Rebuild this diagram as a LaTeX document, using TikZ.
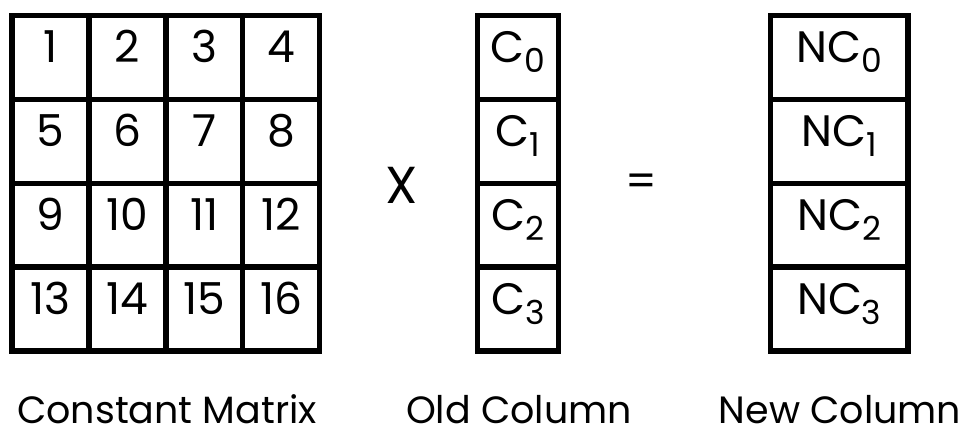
\documentclass[tikz,border=0pt]{standalone}
\usepackage{fontspec}
\setmainfont{Poppins}
% subscript set lower and smaller than the main text
\newcommand\lowsub[1]{\raisebox{-10pt}{\fontsize{33}{33}\selectfont #1}}
\tikzset{
  gridline/.style={draw=black, line width=5.5pt},
  cellbox/.style={gridline, rectangle, inner sep=0pt, minimum height=83.9pt,
    text height=30pt, text depth=19pt, font=\fontsize{44}{44}\selectfont},
  mcell/.style={cellbox, minimum width=76.9pt},
  ocell/.style={cellbox, minimum width=81pt},
  ncell/.style={cellbox, minimum width=137.5pt},
  opsign/.style={inner sep=0pt},
  caption/.style={anchor=base, inner sep=0pt, text height=27pt, text depth=0pt,
    font=\fontsize{38}{38}\selectfont}
}
\begin{document}
\begin{tikzpicture}[x=1pt, y=-1pt]
  \useasboundingbox (0,0) rectangle (968,430);
  % constant 4x4 matrix
  \foreach \i in {1,...,4} {
    \foreach \j in {1,...,4} {
      \pgfmathtruncatemacro{\n}{4*(\i-1)+\j}
      \node[mcell] (m-\i-\j) at ({12+76.9*(\j-0.5)}, {15.5+83.9*(\i-0.5)}) {\n};
    }
  }
  % old and new columns
  \foreach \i [evaluate=\i as \k using int(\i-1)] in {1,...,4} {
    \node[ocell] (c-\i) at (518, {15.5+83.9*(\i-0.5)}) {C\lowsub{\k}};
    \node[ncell] (nc-\i) at (839.25, {15.5+83.9*(\i-0.5)}) {NC\lowsub{\k}};
  }
  % operators
  \node[opsign, font=\fontsize{52}{52}\selectfont] (times) at (402,185) {X};
  \node[opsign, font=\fontsize{44}{44}\selectfont] (equals) at (641,185) {=};
  % captions
  \node[caption] (capm) at (167,423) {Constant Matrix};
  \node[caption] (capo) at (519,423) {Old Column};
  \node[caption] (capn) at (840,423) {New Column};
\end{tikzpicture}
\end{document}
